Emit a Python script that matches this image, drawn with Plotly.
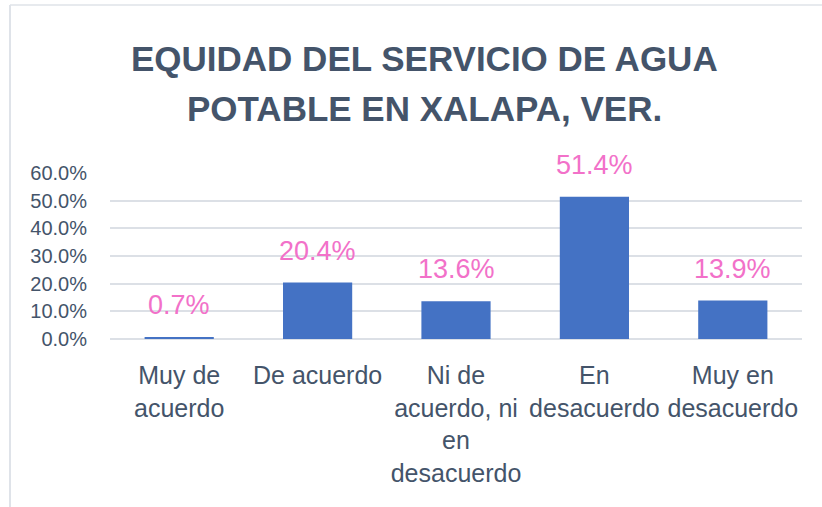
import plotly.graph_objects as go

categories = ["Muy de<br>acuerdo", "De acuerdo", "Ni de<br>acuerdo, ni<br>en<br>desacuerdo",
              "En<br>desacuerdo", "Muy en<br>desacuerdo"]
values = [0.007, 0.204, 0.136, 0.514, 0.139]
value_labels = ["0.7%", "20.4%", "13.6%", "51.4%", "13.9%"]
y_ticks = [0, 0.1, 0.2, 0.3, 0.4, 0.5, 0.6]
y_tick_labels = ["0.0%", "10.0%", "20.0%", "30.0%", "40.0%", "50.0%", "60.0%"]
title_lines = ["EQUIDAD DEL SERVICIO DE AGUA", "POTABLE EN XALAPA, VER."]

W, H = 822, 507
L, R, T, B = 110, 20, 173, 168
pw, ph = W - L - R, H - T - B
FONT = "Liberation Sans, Arial, sans-serif"
TXT = "#44546A"


def px(x):
    return (x - L) / pw


def py(y):
    return (H - B - y) / ph


fig = go.Figure()
fig.add_trace(go.Bar(x=categories, y=values, marker=dict(color="#4472C4", line=dict(width=0)),
                     hoverinfo="skip"))

for c, v, t in zip(categories, values, value_labels):
    fig.add_annotation(x=c, y=v, text=t, showarrow=False, yanchor="bottom", yshift=15,
                       font=dict(family=FONT, size=27, color="#F271C9"))

for i, line in enumerate(title_lines):
    fig.add_annotation(xref="paper", yref="paper", x=px(424), y=py(58 + 50 * i),
                       xanchor="center", yanchor="middle", showarrow=False,
                       text="<b>%s</b>" % line, font=dict(family=FONT, size=35, color=TXT))

fig.add_shape(type="line", xref="paper", yref="paper", x0=px(10), x1=px(10), y0=py(5), y1=py(520),
              line=dict(color="#DFE3E9", width=2), layer="below")
fig.add_shape(type="line", xref="paper", yref="paper", x0=px(10), x1=px(840), y0=py(5), y1=py(5),
              line=dict(color="#DFE3E9", width=1.5), layer="below")

fig.update_layout(
    width=W, height=H,
    margin=dict(l=L, r=R, t=T, b=B, autoexpand=False),
    paper_bgcolor="white", plot_bgcolor="white",
    bargap=0.5,
    showlegend=False,
    font=dict(family=FONT, color=TXT),
    xaxis=dict(showgrid=False, showline=False, ticks="", tickfont=dict(size=25, color=TXT),
               ticklabelstandoff=19, automargin=False),
    yaxis=dict(range=[0, 0.6], tickvals=y_ticks, ticktext=y_tick_labels, showgrid=True,
               gridcolor="#DCE0E6", gridwidth=2, zeroline=True, zerolinecolor="#DCE0E6",
               zerolinewidth=2, showline=False, tickfont=dict(size=20, color=TXT),
               ticklabelstandoff=22, automargin=False),
)

fig.write_html("out.html", config={"displayModeBar": False},
               post_script="document.body.style.margin='0px';")
